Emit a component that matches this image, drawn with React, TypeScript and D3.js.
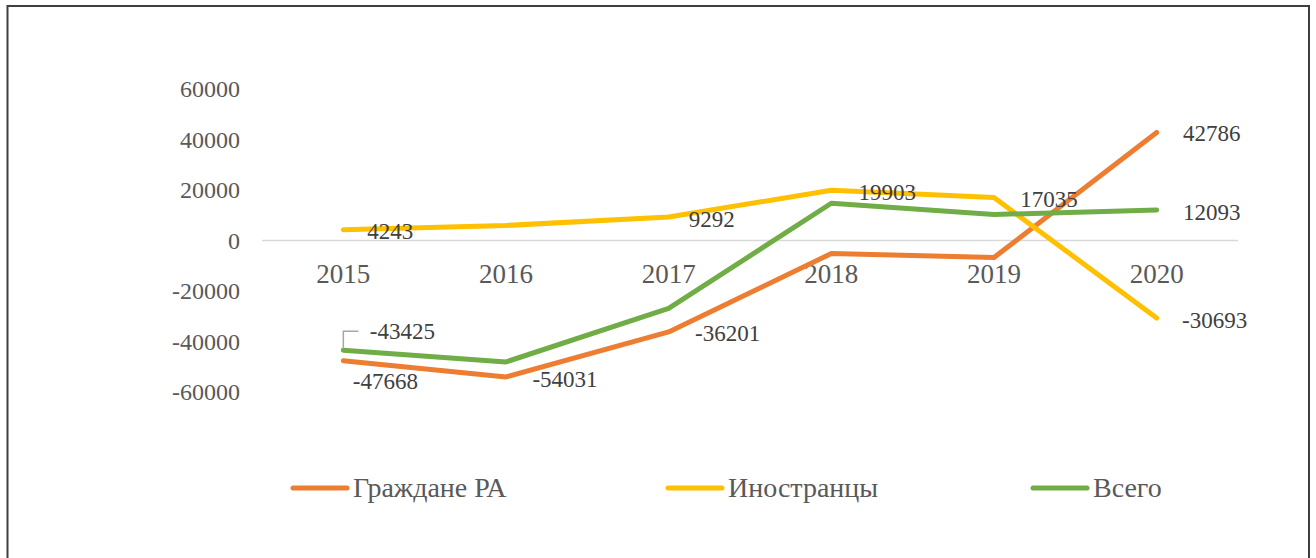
import React from "react";
import * as d3 from "d3";

const years = ["2015", "2016", "2017", "2018", "2019", "2020"];
const citizens = [-47668, -54031, -36201, -5160, -6750, 42786];
const foreigners = [4243, 5950, 9292, 19903, 17035, -30693];
const total = [-43425, -48081, -26909, 14743, 10285, 12093];
const yTicks = [60000, 40000, 20000, 0, -20000, -40000, -60000];

const seriesNames = ["Граждане РА", "Иностранцы", "Всего"];
const seriesColors = ["#ED7D31", "#FFC000", "#70AD47"];

// labelled points: [seriesIndex, yearIndex, dx, dy]
const labelSpecs: [number, number, number, number][] = [
  [1, 0, 47, 2],
  [1, 2, 43, 2],
  [1, 3, 56, 2],
  [1, 4, 55, 2],
  [1, 5, 58, 3],
  [2, 5, 55, 3],
  [0, 5, 55, 1],
  [2, 0, 59, -19],
  [0, 0, 42, 21],
  [0, 1, 59, 3],
  [0, 2, 59, 2],
];

const W = 1316;
const H = 558;
const plotLeft = 262;
const plotRight = 1238;
const FONT = '"Liberation Serif", Tinos, "Times New Roman", Times, "DejaVu Serif", serif';

export default function App() {
  const x = d3.scaleBand<string>().domain(years).range([plotLeft, plotRight]).padding(0);
  const cx = (y: string) => (x(y) as number) + x.bandwidth() / 2;
  const y = d3.scaleLinear().domain([-60000, 60000]).range([392, 89]);
  const allSeries = [citizens, foreigners, total];
  const line = d3
    .line<number>()
    .x((_, i) => cx(years[i]))
    .y((d) => y(d));

  const legendX = [290, 665, 1030];
  const gPt = { x: cx(years[0]), y: y(total[0]) };
  const ts = { fontFamily: FONT };

  return (
    <svg
      width={W}
      height={H}
      style={{ position: "absolute", left: 0, top: 0, background: "#fff", fontFamily: FONT }}
    >
      <rect x={0} y={0} width={W} height={H} fill="#fff" />
      <path
        d={`M7.5,${H + 5} L7.5,6 L1309,6 L1309,${H + 5}`}
        fill="none"
        stroke="#3f3f3f"
        strokeWidth={2}
      />
      <line x1={plotLeft} x2={plotRight} y1={y(0)} y2={y(0)} stroke="#d9d9d9" strokeWidth={1.5} />
      {yTicks.map((t) => (
        <text key={t} x={240} y={y(t) + 8} textAnchor="end" fontSize={24} fill="#595959" style={ts}>
          {t}
        </text>
      ))}
      {years.map((yr) => (
        <text key={yr} x={cx(yr)} y={y(0) + 42} textAnchor="middle" fontSize={27} fill="#595959" style={ts}>
          {yr}
        </text>
      ))}
      {allSeries.map((s, i) => (
        <path
          key={i}
          d={line(s) as string}
          fill="none"
          stroke={seriesColors[i]}
          strokeWidth={5}
          strokeLinejoin="round"
          strokeLinecap="round"
        />
      ))}
      <path
        d={`M${gPt.x},${gPt.y - 2} L${gPt.x},${gPt.y - 19} L${gPt.x + 15},${gPt.y - 19}`}
        fill="none"
        stroke="#a6a6a6"
        strokeWidth={1.5}
      />
      {labelSpecs.map(([si, yi, dx, dy], k) => {
        const v = allSeries[si][yi];
        return (
          <text
            key={k}
            x={cx(years[yi]) + dx}
            y={y(v) + dy + 7.5}
            textAnchor="middle"
            fontSize={23}
            fill="#404040"
            style={ts}
          >
            {v}
          </text>
        );
      })}
      {seriesNames.map((n, i) => (
        <g key={n}>
          <line
            x1={legendX[i] + 3}
            x2={legendX[i] + 57}
            y1={488}
            y2={488}
            stroke={seriesColors[i]}
            strokeWidth={5}
            strokeLinecap="round"
          />
          <text x={legendX[i] + 63} y={497} fontSize={28} fill="#595959" style={ts}>
            {n}
          </text>
        </g>
      ))}
    </svg>
  );
}
